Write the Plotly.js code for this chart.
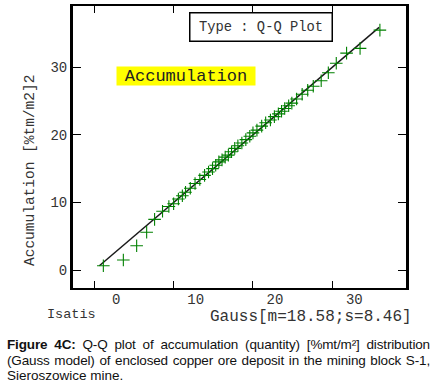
<!DOCTYPE html>
<html>
<head>
<meta charset="utf-8">
<script src="https://cdn.plot.ly/plotly-3.0.1.min.js"></script>
<style>
  html, body { margin: 0; padding: 0; background: #fff; }
  #wrap { position: relative; width: 435px; height: 389px; overflow: hidden; }
  #chart { position: absolute; left: 0; top: 0; width: 435px; height: 389px; }
  #caption { position: absolute; left: 7px; top: 337px; width: 423px;
             font-family: "Liberation Sans", Arial, sans-serif; font-size: 13.5px;
             line-height: 15.6px; color: #111; }
  #caption .j { text-align: justify; text-align-last: justify; white-space: nowrap;
                letter-spacing: -0.15px; }
</style>
</head>
<body>
<div id="wrap">
  <div id="chart"></div>
  <div id="caption">
    <div class="j"><b>Figure 4C:</b> Q-Q plot of accumulation (quantity) [%mt/m²] distribution</div>
    <div class="j">(Gauss model) of enclosed copper ore deposit in the mining block S-1,</div>
    <div>Sieroszowice mine.</div>
  </div>
</div>
<script>
// Gauss quantiles (x) and experimental accumulation quantiles (y)
const gaussQuantiles = [1.14, 3.66, 5.34, 6.6, 7.6, 8.6, 9.4, 10.0, 10.6, 11.1, 11.5, 12.1, 12.7, 13.3,
  13.9, 14.4, 14.9, 15.3, 15.7, 16.1, 16.5, 16.9, 17.3, 17.7, 18.1, 18.6, 19.1, 19.6, 20.0, 20.5,
  21.1, 21.6, 22.2, 22.7, 23.2, 23.6, 24.0, 24.5, 24.9, 25.5, 26.2, 26.9, 27.6, 28.6, 29.5, 30.5,
  31.8, 33.5, 36.0];
const accumulationQuantiles = [0.64, 1.48, 3.6, 5.58, 7.5, 8.7, 9.4, 9.8, 10.5, 11.0, 11.5, 12.1, 12.8, 13.4,
  14.0, 14.5, 15.0, 15.5, 16.0, 16.3, 16.7, 17.0, 17.5, 18.0, 18.4, 18.8, 19.3, 19.8, 20.3, 20.7,
  21.3, 21.8, 22.2, 22.7, 23.1, 23.5, 23.9, 24.3, 24.7, 25.3, 26.0, 26.6, 27.2, 28.0, 29.2, 30.6,
  32.1, 32.8, 35.5];
// first bisector reference line endpoints
const refLine = [0.64, 35.9];
const xTicks = [0, 10, 20, 30];
const yTicks = [0, 10, 20, 30];

const mono = "Liberation Mono, Courier New, monospace";

const traces = [
  {
    x: refLine, y: refLine, type: 'scatter', mode: 'lines',
    line: {color: '#1a1a1a', width: 1.5}, hoverinfo: 'skip', showlegend: false
  },
  {
    x: gaussQuantiles, y: accumulationQuantiles, type: 'scatter', mode: 'markers',
    marker: {symbol: 'cross-thin', size: 9, color: '#008000', line: {color: '#008000', width: 1.1}},
    showlegend: false
  }
];

const layout = {
  width: 435, height: 389,
  margin: {l: 73, r: 29, t: 6, b: 101},
  paper_bgcolor: 'rgba(0,0,0,0)', plot_bgcolor: '#fff',
  showlegend: false,
  xaxis: {
    range: [-2.685, 39.29], tickvals: xTicks, ticktext: xTicks.map(String),
    showgrid: false, zeroline: false,
    showline: true, linecolor: '#000', linewidth: 2, mirror: 'ticks',
    ticks: 'inside', ticklen: 7, tickwidth: 1, tickcolor: '#000',
    ticklabelshift: 22, ticklabelstandoff: -3,
    tickfont: {family: mono, size: 14, color: '#333'}
  },
  yaxis: {
    range: [-2.66, 39.07], tickvals: yTicks, ticktext: yTicks.map(String),
    showgrid: false, zeroline: false,
    showline: true, linecolor: '#000', linewidth: 3, mirror: 'ticks',
    ticks: 'inside', ticklen: 8, tickwidth: 1, tickcolor: '#000',
    tickfont: {family: mono, size: 14, color: '#333'}
  },
  annotations: [
    {text: 'Accumulation [%tm/m2]2', xref: 'paper', yref: 'paper', x: -0.129, y: 0.415,
     textangle: -90, showarrow: false, xanchor: 'center', yanchor: 'middle',
     font: {family: mono, size: 14.5, color: '#333'}},
    {text: 'Type : Q-Q Plot', xref: 'paper', yref: 'paper', x: 0.566, y: 0.924,
     showarrow: false, xanchor: 'center', yanchor: 'middle',
     width: 139, height: 25, borderpad: 1, bordercolor: '#000', borderwidth: 1.5, bgcolor: '#fff',
     font: {family: mono, size: 13.8, color: '#333'}},
    {text: 'Accumulation', xref: 'paper', yref: 'paper', x: 0.339, y: 0.752,
     showarrow: false, xanchor: 'center', yanchor: 'middle',
     width: 136, height: 16, borderpad: 1, bgcolor: '#ffff00',
     font: {family: mono, size: 17, color: '#222'}},
    {text: 'Isatis', xref: 'paper', yref: 'paper', x: (71 - 73) / 333, y: -0.095,
     showarrow: false, xanchor: 'center', yanchor: 'middle',
     font: {family: mono, size: 13.5, color: '#333'}},
    {text: 'Gauss[m=18.58;s=8.46]', xref: 'paper', yref: 'paper', x: (414 - 73) / 333, y: -0.103,
     showarrow: false, xanchor: 'right', yanchor: 'middle',
     font: {family: mono, size: 16, color: '#333'}}
  ]
};

Plotly.newPlot('chart', traces, layout, {displayModeBar: false, staticPlot: true});
</script>
</body>
</html>
